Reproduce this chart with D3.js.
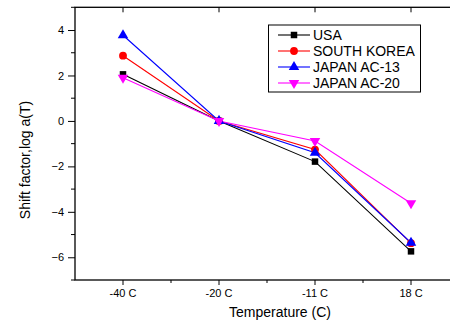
<!DOCTYPE html>
<html><head><meta charset="utf-8">
<script src="https://cdn.jsdelivr.net/npm/d3@7"></script>
<style>body{margin:0;background:#fff}svg{display:block}text{font-family:Arial,"Liberation Sans",sans-serif}</style>
</head><body><svg id="c" width="450" height="324"></svg>
<script>
const categories = ["-40 C", "-20 C", "-11 C", "18 C"];
const seriesNames = ["USA", "SOUTH KOREA", "JAPAN AC-13", "JAPAN AC-20"];
const usa = [2.05, 0, -1.79, -5.74];
const southKorea = [2.87, 0, -1.26, -5.38];
const japanAC13 = [3.77, 0, -1.40, -5.36];
const japanAC20 = [1.90, 0, -0.88, -3.62];
const yTicks = [-6, -4, -2, 0, 2, 4];
const yMinor = [-7, -5, -3, -1, 1, 3, 5];

const series = [
  {name: seriesNames[0], values: usa, color: "#000000", sym: d3.symbolSquare},
  {name: seriesNames[1], values: southKorea, color: "#ff0000", sym: d3.symbolCircle},
  {name: seriesNames[2], values: japanAC13, color: "#0000ff", sym: d3.symbolTriangle},
  {name: seriesNames[3], values: japanAC20, color: "#ff00ff", sym: "down"}
];

const svg = d3.select("#c");
const L = 75, R = 459, T = 7.3, B = 280;
const xb = d3.scaleBand().domain(categories).range([L, R]).padding(0);
const xc = c => xb(c) + xb.bandwidth() / 2;
const y = d3.scaleLinear().domain([-7, 5]).range([B, T]);

// frame
svg.append("rect").attr("x", L).attr("y", T).attr("width", R - L).attr("height", B - T)
  .attr("fill", "none").attr("stroke", "#000").attr("stroke-width", 1.3);

// bottom axis
const gx = svg.append("g").attr("transform", `translate(0,${B})`)
  .call(d3.axisBottom(xb).tickSize(5).tickPadding(4).tickFormat(d => d));
gx.select(".domain").remove();
gx.selectAll(".tick").attr("transform", d => `translate(${xc(d)},0)`);
gx.selectAll("text").attr("font-size", 11).attr("fill", "#000").attr("font-family", "Arial, Liberation Sans, sans-serif");
// minor x ticks
svg.append("g").selectAll("line").data(categories.slice(1)).join("line")
  .attr("x1", d => xb(d)).attr("x2", d => xb(d)).attr("y1", B).attr("y2", B + 3).attr("stroke", "#000");
// top ticks (inward)
svg.append("g").selectAll("line").data(categories).join("line")
  .attr("x1", d => xc(d)).attr("x2", d => xc(d)).attr("y1", T).attr("y2", T + 5).attr("stroke", "#000");

// left axis
const gy = svg.append("g").attr("transform", `translate(${L},0)`)
  .call(d3.axisLeft(y).tickValues(yTicks).tickSize(7).tickPadding(4).tickFormat(d3.format("d")));
gy.select(".domain").remove();
gy.selectAll("text").attr("font-size", 11).attr("fill", "#000").attr("font-family", "Arial, Liberation Sans, sans-serif");
svg.append("g").selectAll("line").data(yMinor).join("line")
  .attr("x1", L - 4).attr("x2", L).attr("y1", d => y(d)).attr("y2", d => y(d)).attr("stroke", "#000");

// titles
svg.append("text").attr("x", 280).attr("y", 317).attr("text-anchor", "middle")
  .attr("font-size", 14).text("Temperature (C)");
svg.append("text").attr("transform", `translate(30,${160}) rotate(-90)`).attr("text-anchor", "middle")
  .attr("font-size", 14).text("Shift factor,log a(T)");

function drawSym(g, s, cx, cy) {
  if (s.sym === "down") {
    g.append("path").attr("d", d3.symbol(d3.symbolTriangle, 48)())
      .attr("transform", `translate(${cx},${cy}) rotate(180)`).attr("fill", s.color);
  } else {
    const size = s.sym === d3.symbolSquare ? 42 : 48;
    g.append("path").attr("d", d3.symbol(s.sym, size)())
      .attr("transform", `translate(${cx},${cy})`).attr("fill", s.color);
  }
}

const line = d3.line().x((d, i) => xc(categories[i])).y(d => y(d));
const gd = svg.append("g");
series.forEach(s => {
  gd.append("path").attr("d", line(s.values)).attr("fill", "none").attr("stroke", s.color).attr("stroke-width", 1.1);
});
series.forEach(s => {
  s.values.forEach((v, i) => drawSym(gd, s, xc(categories[i]), y(v)));
});

// legend
const lg = svg.append("g");
lg.append("rect").attr("x", 268.5).attr("y", 25).attr("width", 152).attr("height", 67)
  .attr("fill", "#fff").attr("stroke", "#000").attr("stroke-width", 1);
series.forEach((s, i) => {
  const yy = 35 + i * 16;
  lg.append("line").attr("x1", 278).attr("x2", 310).attr("y1", yy).attr("y2", yy).attr("stroke", s.color).attr("stroke-width", 1.1);
  drawSym(lg, s, 294, yy);
  lg.append("text").attr("x", 313).attr("y", yy + 5).attr("font-size", 14).text(s.name);
});
</script></body></html>
